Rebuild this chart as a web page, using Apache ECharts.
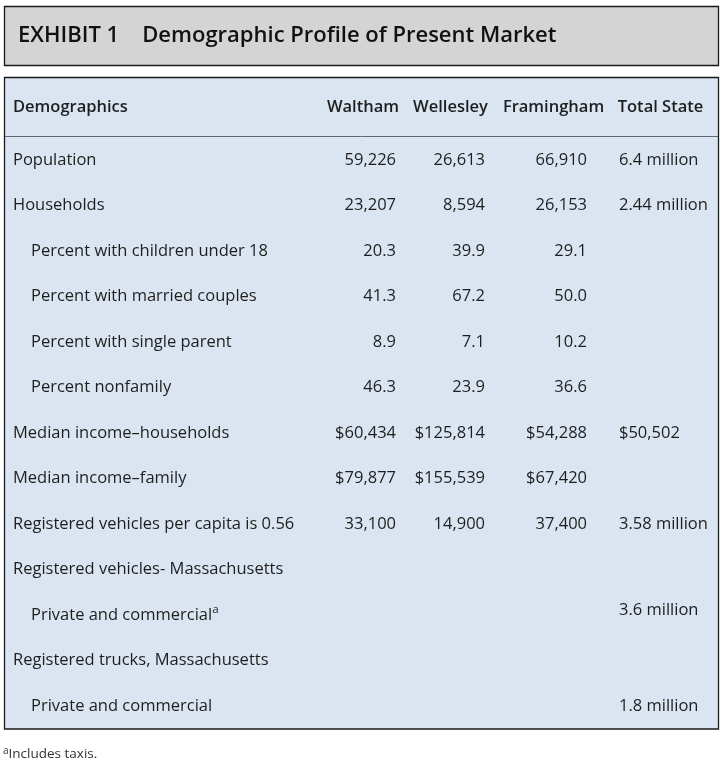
<!DOCTYPE html>
<html><head><meta charset="utf-8">
<script src="https://cdn.jsdelivr.net/npm/echarts@6/dist/echarts.min.js"></script>
<style>html,body{margin:0;padding:0;background:#fff}#c{width:726px;height:765px}</style>
</head><body><div id="c"></div>
<script>
// ---- data ----
const exhibitLabel = 'EXHIBIT 1';
const exhibitTitle = 'Demographic Profile of Present Market';
const columns = ['Demographics', 'Waltham', 'Wellesley', 'Framingham', 'Total State'];
const rowLabels = ['Population', 'Households', 'Percent with children under 18', 'Percent with married couples',
  'Percent with single parent', 'Percent nonfamily', 'Median income\u2013households', 'Median income\u2013family',
  'Registered vehicles per capita is 0.56', 'Registered vehicles- Massachusetts', 'Private and commercial',
  'Registered trucks, Massachusetts', 'Private and commercial'];
const rowNotes = ['', '', '', '', '', '', '', '', '', '', 'a', '', ''];
const waltham = ['59,226', '23,207', '20.3', '41.3', '8.9', '46.3', '$60,434', '$79,877', '33,100', '', '', '', ''];
const wellesley = ['26,613', '8,594', '39.9', '67.2', '7.1', '23.9', '$125,814', '$155,539', '14,900', '', '', '', ''];
const framingham = ['66,910', '26,153', '29.1', '50.0', '10.2', '36.6', '$54,288', '$67,420', '37,400', '', '', '', ''];
const totalState = ['6.4 million', '2.44 million', '', '', '', '', '$50,502', '', '3.58 million', '', '3.6 million', '', '1.8 million'];
const footnoteMark = 'a';
const footnoteText = 'Includes taxis.';

// ---- layout (not data) ----
const FONT = '"Open Sans", sans-serif';
const TXT = '#1e1e1e';
const FS = 16.5, LS = 0.25;
const indentRows = [2, 3, 4, 5, 10, 12];
const labelX = 13, indentX = 31;
const valueRight = [396, 485, 587];   // right edges of numeric columns
const totalLeft = 619;
const headerCenter = [363, 450.5, 553.5, 660.5];
const headerRow = -1.165;

const valueCols = [waltham, wellesley, framingham];
const cells = [];
cells.push({x: labelX, y: headerRow, text: columns[0], align: 'left', bold: true});
for (let c = 1; c < columns.length; c++) {
  cells.push({x: headerCenter[c - 1], y: headerRow, text: columns[c], align: 'center', bold: true});
}
rowLabels.forEach((lab, r) => {
  cells.push({x: indentRows.includes(r) ? indentX : labelX, y: r, text: lab, note: rowNotes[r], align: 'left'});
  valueCols.forEach((col, ci) => {
    if (col[r]) cells.push({x: valueRight[ci], y: r, text: col[r], align: 'right'});
  });
  if (totalState[r]) cells.push({x: totalLeft, y: r, text: totalState[r], align: 'left', lift: rowNotes[r] ? 5 : 0});
});

const chart = echarts.init(document.getElementById('c'), null, {renderer: 'canvas'});
chart.setOption({
  animation: false,
  backgroundColor: '#ffffff',
  title: {
    text: '{e|' + exhibitLabel + '}{g|}{t|' + exhibitTitle + '}',
    left: 18, top: 25, padding: 0,
    textStyle: {
      rich: {
        e: {fontFamily: FONT, fontSize: 22, fontWeight: 600, color: '#111', letterSpacing: -0.3},
        g: {width: 23},
        t: {fontFamily: FONT, fontSize: 22, fontWeight: 600, color: '#111'}
      }
    }
  },
  graphic: [
    {type: 'rect', z: 0, shape: {x: 4.5, y: 6.5, width: 714, height: 59},
      style: {fill: '#d4d4d4', stroke: '#1a1a1a', lineWidth: 1.3}},
    {type: 'rect', z: 0, shape: {x: 4.5, y: 77.5, width: 714, height: 651.5},
      style: {fill: '#dbe5f1', stroke: '#1a1a1a', lineWidth: 1.3}},
    {type: 'line', z: 1, shape: {x1: 5, y1: 136.5, x2: 718, y2: 136.5},
      style: {stroke: '#5f6670', lineWidth: 1}},
    {type: 'text', z: 1, left: 3, top: 746,
      style: {text: '{s|' + footnoteMark + '}{n|' + footnoteText + '}',
        rich: {
          s: {fontFamily: FONT, fontSize: 10, fill: '#333', verticalAlign: 'top', lineHeight: 17},
          n: {fontFamily: FONT, fontSize: 13.5, fill: '#333', lineHeight: 17, letterSpacing: 0.2}
        }}}
  ],
  grid: {left: 0, right: 0, top: 69, height: 682.5},
  xAxis: {type: 'value', min: 0, max: 726, show: false},
  yAxis: {type: 'value', min: -2, max: 13, inverse: true, show: false},
  series: [{
    type: 'custom',
    coordinateSystem: 'cartesian2d',
    z: 5,
    data: cells.map(c => [c.x, c.y]),
    renderItem: function (params, api) {
      const cell = cells[params.dataIndex];
      const p = api.coord([api.value(0), api.value(1)]);
      let style;
      if (cell.note) {
        style = {
          text: '{m|' + cell.text + '}{s|' + cell.note + '}',
          rich: {
            m: {fontFamily: FONT, fontSize: FS, fill: TXT, lineHeight: 22, letterSpacing: LS},
            s: {fontFamily: FONT, fontSize: 11.5, fill: TXT, verticalAlign: 'top', lineHeight: 22}
          },
          align: cell.align, verticalAlign: 'middle'
        };
      } else {
        style = {text: cell.text, fontFamily: FONT, fontSize: FS, fontWeight: cell.bold ? 600 : 400,
          letterSpacing: LS, fill: TXT, align: cell.align, verticalAlign: 'middle'};
      }
      return {type: 'text', x: p[0], y: p[1] - (cell.lift || 0), style: style};
    }
  }]
});
</script></body></html>
